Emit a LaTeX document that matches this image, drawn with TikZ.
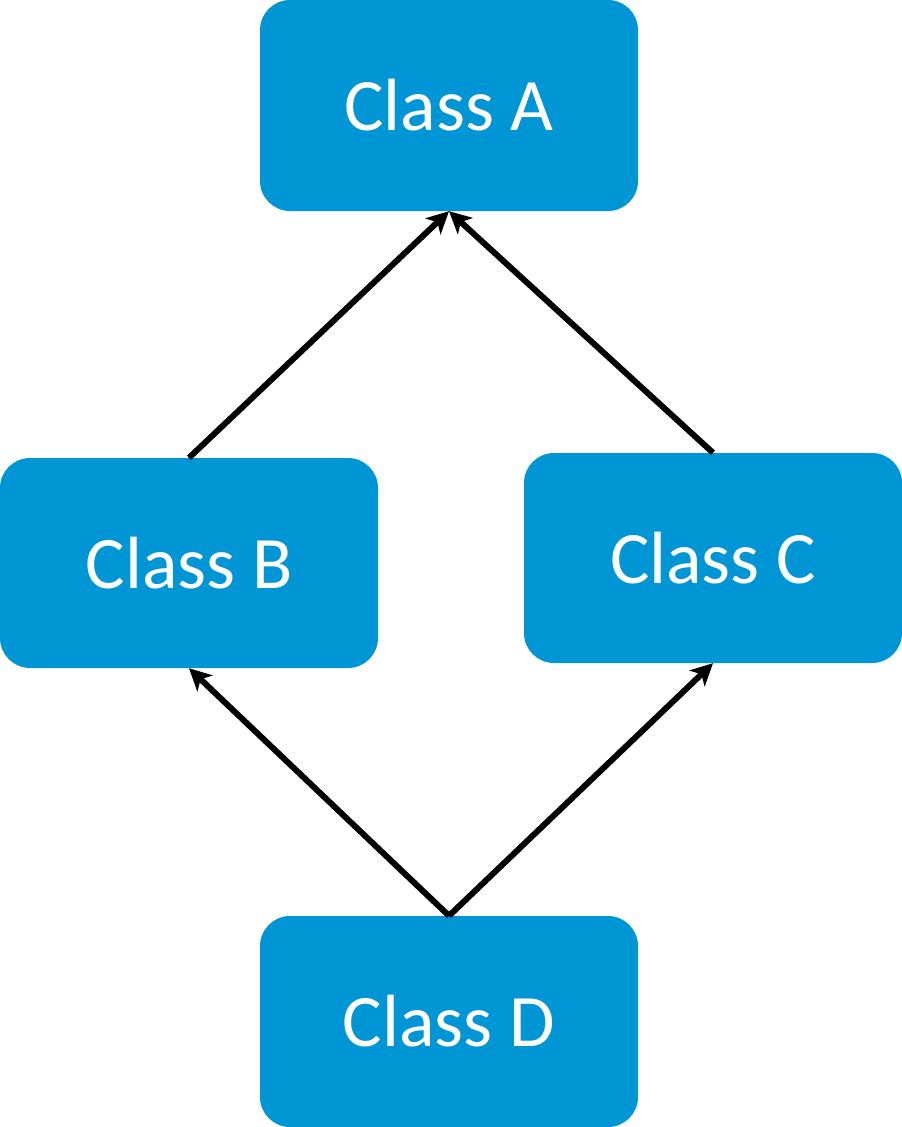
\documentclass[tikz,border=0pt]{standalone}
\usepackage{fontspec}
\setmainfont{Carlito}
\usetikzlibrary{arrows.meta}
\definecolor{boxblue}{HTML}{0096D6}
\begin{document}
\begin{tikzpicture}[x=1pt,y=-1pt,
  classbox/.style={fill=boxblue,draw=none,rounded corners=30pt,minimum width=378pt,minimum height=211pt,inner sep=0pt,text=white,font=\fontsize{74}{80}\selectfont},
  link/.style={line width=6pt,-{Stealth[length=22pt,width=22pt,inset=6pt]}}]
\useasboundingbox (0,0) rectangle (902,1127);
\node[classbox] (A) at (449,105.5) {Class A};
\node[classbox,minimum height=210pt] (B) at (189,563) {Class B};
\node[classbox,minimum height=210pt] (C) at (713,558) {Class C};
\node[classbox] (D) at (449,1021.5) {Class D};
\draw[link] (B.north) -- (A.south);
\draw[link] (C.north) -- (A.south);
\draw[link] (D.north) -- (B.south);
\draw[link] (D.north) -- (C.south);
\end{tikzpicture}
\end{document}
